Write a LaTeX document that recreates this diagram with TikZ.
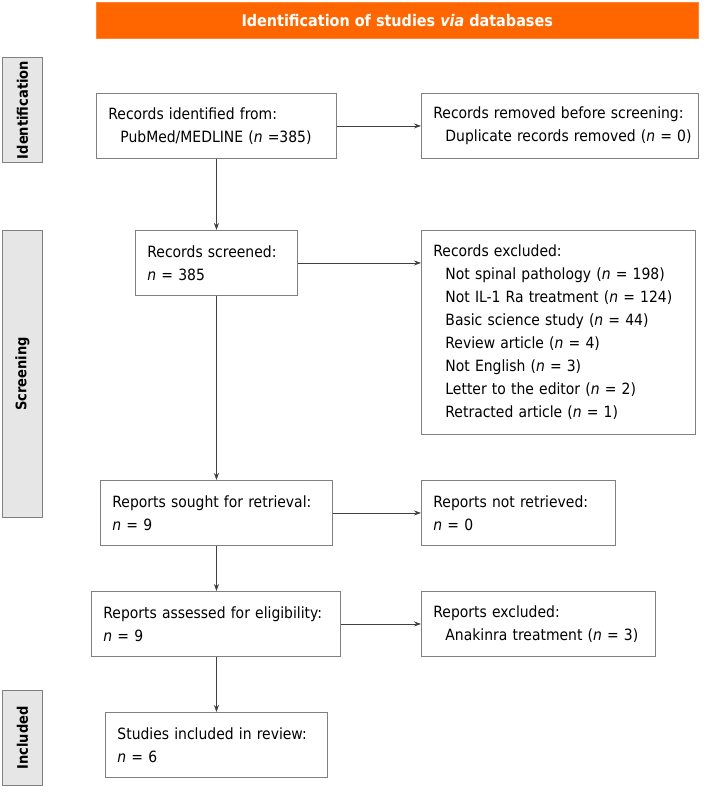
\documentclass[tikz,border=0pt]{standalone}
\usepackage{fontspec}
\setmainfont{DejaVu Sans Condensed}
\usetikzlibrary{arrows.meta}
\definecolor{hdr}{HTML}{FF6600}
\definecolor{side}{HTML}{E6E6E6}
\definecolor{edge}{HTML}{808080}
\definecolor{arr}{HTML}{404040}
\newcommand{\nn}{\textit{n}}
\newcommand{\Lx}[1]{\mbox{#1}}
\newcommand{\Ix}[1]{\mbox{\hspace*{12pt}#1}}
\tikzset{
  box/.style={draw=edge, line width=0.9pt, fill=white, anchor=north west, inner sep=0pt,
    font=\fontsize{15.5}{23}\selectfont, align=left},
  sidebar/.style={draw=edge, line width=0.9pt, fill=side, anchor=north west, inner sep=0pt},
  sidetxt/.style={font=\fontsize{14.5}{16}\bfseries\selectfont, rotate=90},
  conn/.style={draw=arr, line width=0.8pt, -{Stealth[length=7pt,width=5pt]}},
}
\begin{document}
\begin{tikzpicture}[x=1pt,y=-1pt]
\useasboundingbox (0,0) rectangle (713,797);
\fill[white] (0,0) rectangle (713,797);
% header
\node[fill=hdr, draw=hdr!80!white, anchor=north west, minimum width=602pt, minimum height=36pt, inner sep=0pt,
  text=white, font=\fontsize{16}{18}\bfseries\selectfont] (hdr) at (96,2) {Identification of studies \textit{via} databases};
% side bars
\node[sidebar, minimum width=40pt, minimum height=105pt] (sid) at (2,57) {};
\node[sidetxt] at (sid.center) {Identification};
\node[sidebar, minimum width=40pt, minimum height=287pt] (sscr) at (2,230) {};
\node[sidetxt] at (sscr.center) {Screening};
\node[sidebar, minimum width=40pt, minimum height=95pt] (sinc) at (2,690) {};
\node[sidetxt] at (sinc.center) {Included};
% boxes
\node[box, minimum width=240pt, minimum height=65pt, text width=216pt] (ident) at (96,93)
  {\Lx{Records identified from:}\\\Ix{PubMed/MEDLINE (\nn{} =385)}};
\node[box, minimum width=277pt, minimum height=65pt, text width=253pt] (removed) at (421,93)
  {\Lx{Records removed before screening:}\\\Ix{Duplicate records removed (\nn{} = 0)}};
\node[box, minimum width=162pt, minimum height=65pt, text width=138pt] (screened) at (135,230)
  {\Lx{Records screened:}\\\Lx{\nn{} = 385}};
\node[box, minimum width=274pt, minimum height=204pt, text width=250pt] (excluded) at (421,230)
  {\Lx{Records excluded:}\\
   \Ix{Not spinal pathology (\nn{} = 198)}\\
   \Ix{Not IL-1 Ra treatment (\nn{} = 124)}\\
   \Ix{Basic science study (\nn{} = 44)}\\
   \Ix{Review article (\nn{} = 4)}\\
   \Ix{Not English (\nn{} = 3)}\\
   \Ix{Letter to the editor (\nn{} = 2)}\\
   \Ix{Retracted article (\nn{} = 1)}};
\node[box, minimum width=232pt, minimum height=65pt, text width=208pt] (sought) at (100,480)
  {\Lx{Reports sought for retrieval:}\\\Lx{\nn{} = 9}};
\node[box, minimum width=194pt, minimum height=65pt, text width=170pt] (notret) at (421,480)
  {\Lx{Reports not retrieved:}\\\Lx{\nn{} = 0}};
\node[box, minimum width=249pt, minimum height=65pt, text width=225pt] (assessed) at (91,591)
  {\Lx{Reports assessed for eligibility:}\\\Lx{\nn{} = 9}};
\node[box, minimum width=234pt, minimum height=65pt, text width=210pt] (repexc) at (421,591)
  {\Lx{Reports excluded:}\\\Ix{Anakinra treatment (\nn{} = 3)}};
\node[box, minimum width=222pt, minimum height=65pt, text width=198pt] (incl) at (105,712)
  {\Lx{Studies included in review:}\\\Lx{\nn{} = 6}};
% connectors
\draw[conn] (ident.east) -- (removed.west);
\draw[conn] (ident.south -| screened.north) -- (screened.north);
\draw[conn] (screened.east) -- (screened.east -| excluded.west);
\draw[conn] (screened.south) -- (screened.south |- sought.north);
\draw[conn] (sought.east) -- (notret.west);
\draw[conn] (screened.south |- sought.south) -- (screened.south |- assessed.north);
\draw[conn] (assessed.east) -- (repexc.west);
\draw[conn] (screened.south |- assessed.south) -- (screened.south |- incl.north);
\end{tikzpicture}
\end{document}
